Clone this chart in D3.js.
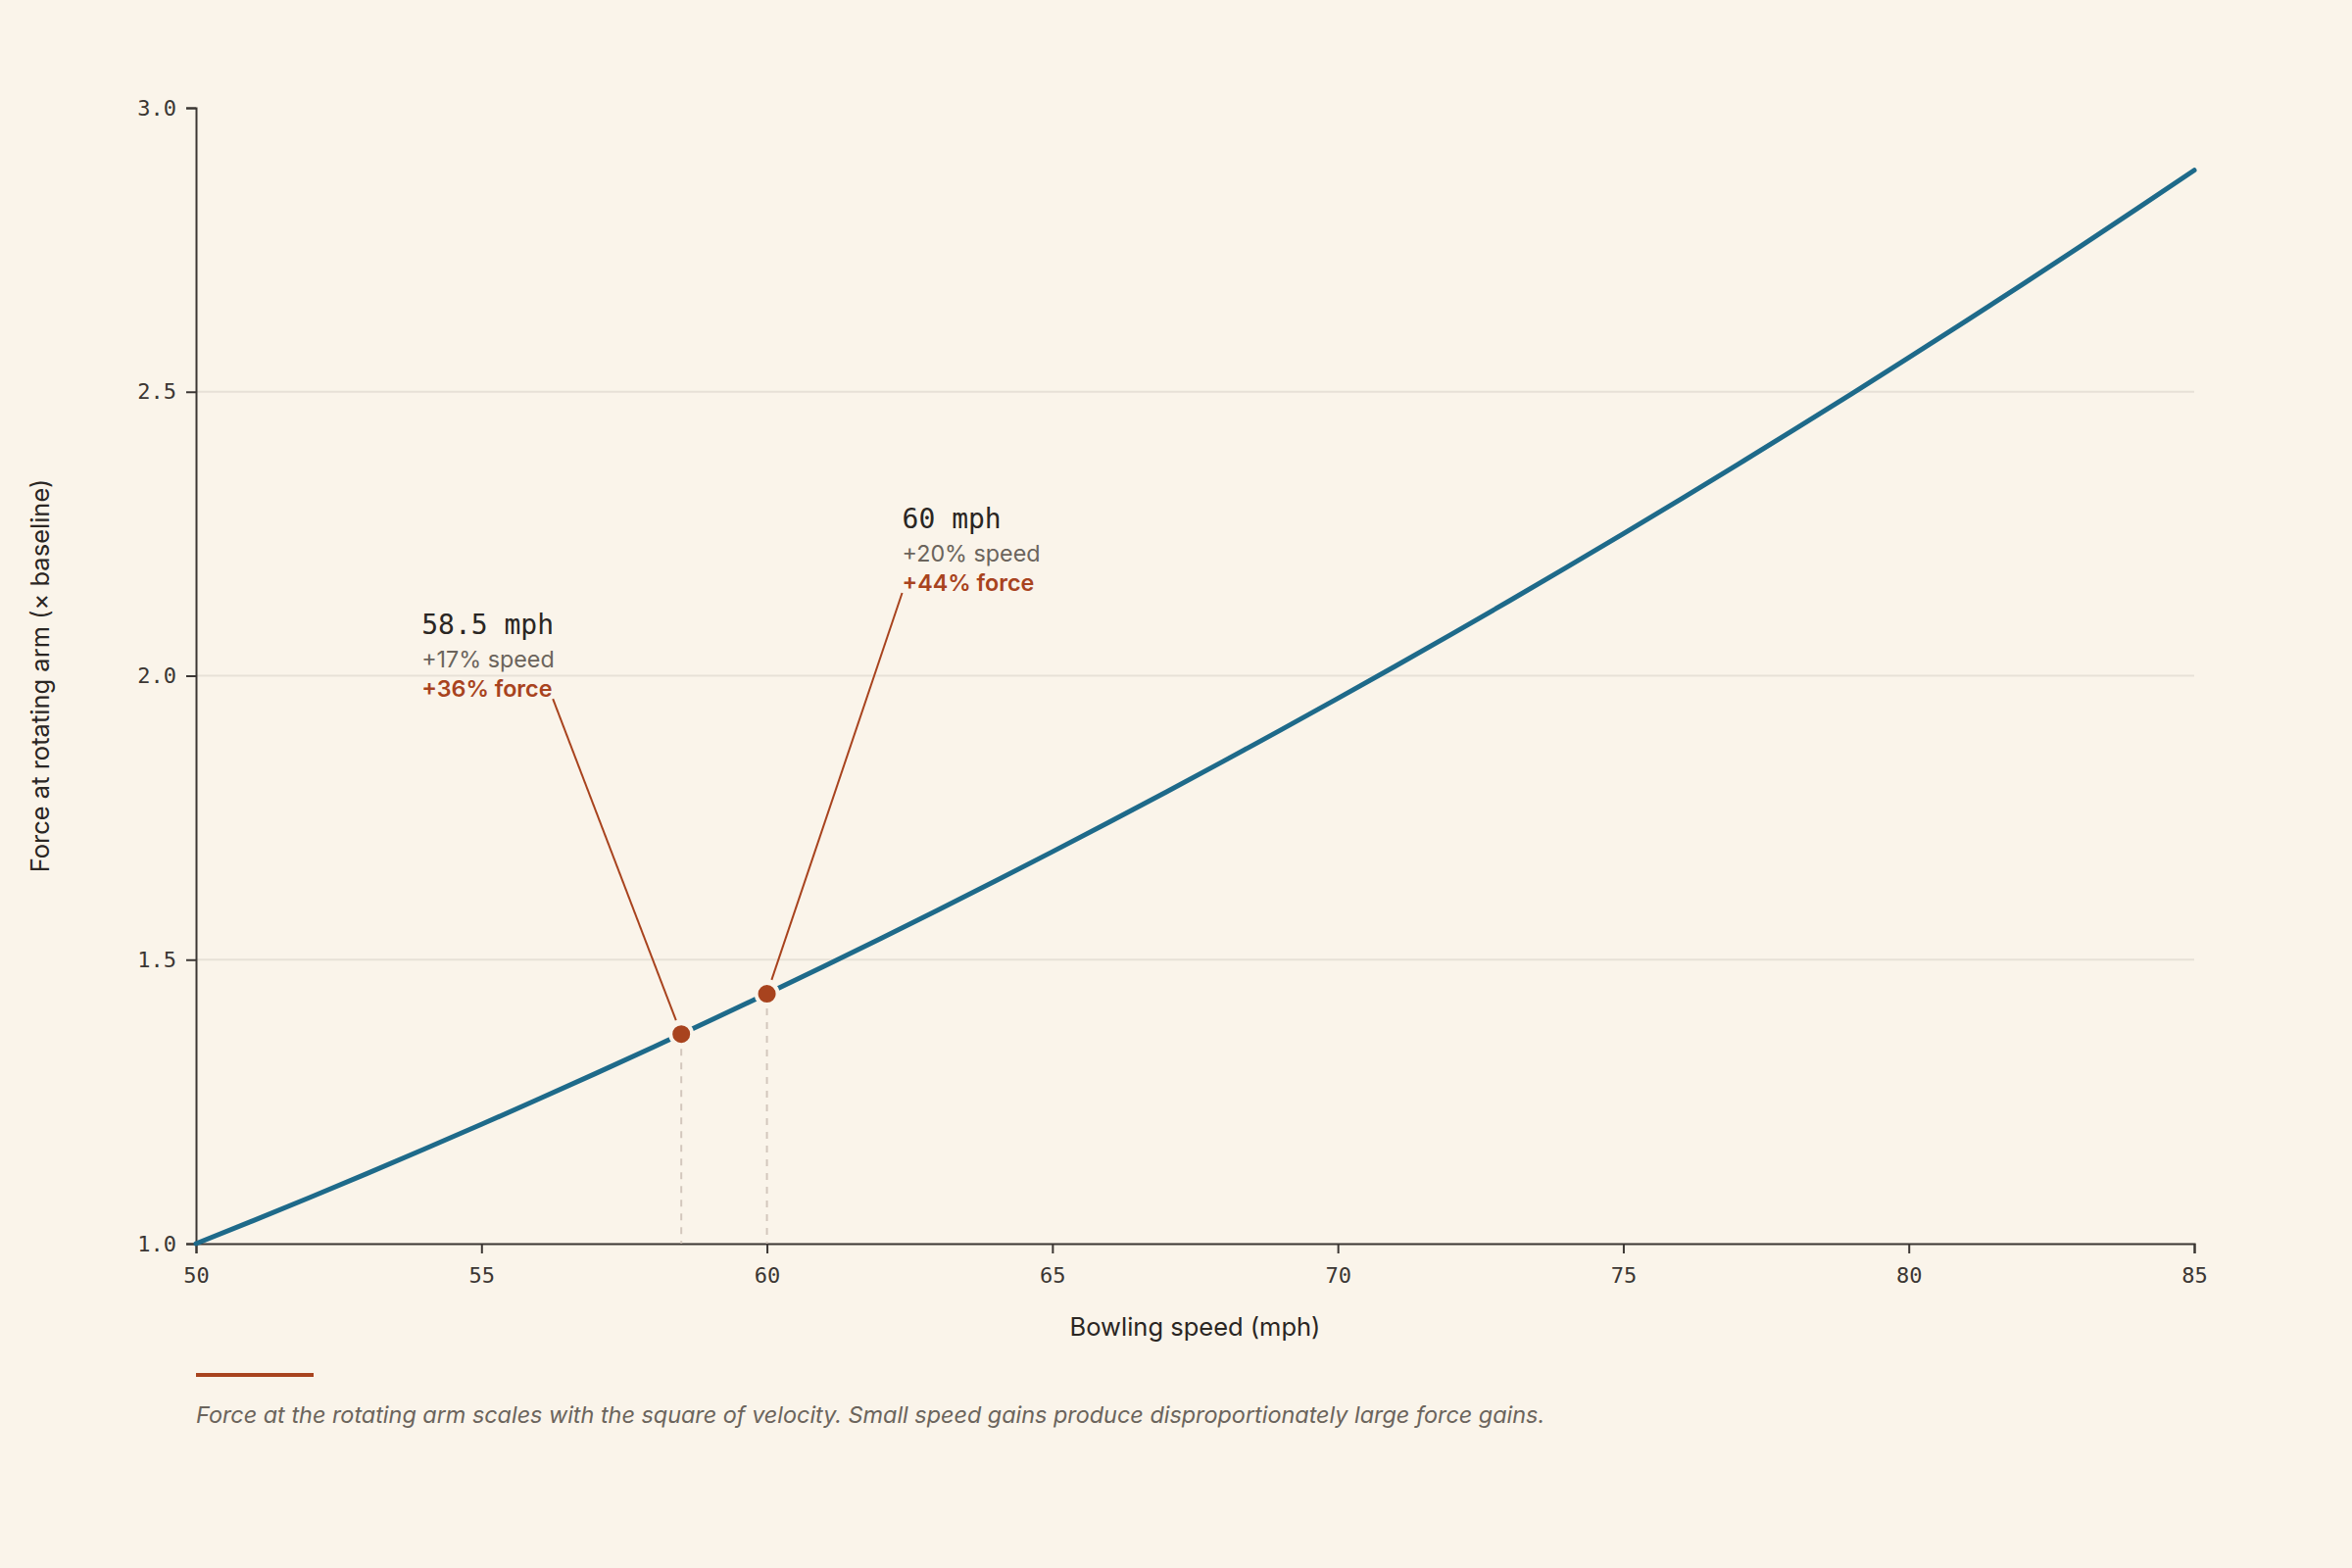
<html>
<head>
<style>
  body { margin: 0; background: #faf4ea; }
  svg { display: block; }
  .tick text { font-family: "DejaVu Sans Mono", monospace; font-size: 22px; fill: #3b3633; }
</style>
</head>
<body>
<svg width="2400" height="1600"></svg>
<script src="https://cdn.jsdelivr.net/npm/d3@7/dist/d3.min.js"></script>
<script>
var speeds = [50, 51, 52, 53, 54, 55, 56, 57, 58, 59, 60, 61, 62, 63, 64, 65, 66, 67,
  68, 69, 70, 71, 72, 73, 74, 75, 76, 77, 78, 79, 80, 81, 82, 83, 84, 85];
var forces = [1.0000, 1.0404, 1.0816, 1.1236, 1.1664, 1.2100, 1.2544, 1.2996, 1.3456,
  1.3924, 1.4400, 1.4884, 1.5376, 1.5876, 1.6384, 1.6900, 1.7424, 1.7956, 1.8496,
  1.9044, 1.9600, 2.0164, 2.0736, 2.1316, 2.1904, 2.2500, 2.3104, 2.3716, 2.4336,
  2.4964, 2.5600, 2.6244, 2.6896, 2.7556, 2.8224, 2.8900];

var markSpeeds = [58.5, 60];
var markForces = [1.3689, 1.44];
var markTitles = ["58.5 mph", "60 mph"];
var markSpeedGain = ["+17% speed", "+20% speed"];
var markForceGain = ["+36% force", "+44% force"];

var xTicks = [50, 55, 60, 65, 70, 75, 80, 85];
var yTicks = [1.0, 1.5, 2.0, 2.5, 3.0];

var bg = "#faf4ea";
var blue = "#1e6a8a";
var rust = "#a8431e";
var ink = "#2a2623";
var muted = "#6b645c";

var margin = { top: 110, right: 161, bottom: 331, left: 200 };
var width = 2400 - margin.left - margin.right;
var height = 1600 - margin.top - margin.bottom;

var svg = d3.select("svg");
svg.append("rect").attr("width", 2400).attr("height", 1600).attr("fill", bg);

var g = svg.append("g")
  .attr("transform", "translate(" + margin.left + "," + margin.top + ")");

var x = d3.scaleLinear().domain([50, 85]).range([0, width]);
var y = d3.scaleLinear().domain([1, 3]).range([height, 0]);

// gridlines
g.append("g").selectAll("line")
  .data(yTicks.filter(function(d) { return d > 1 && d < 3; }))
  .enter().append("line")
  .attr("x1", 0).attr("x2", width)
  .attr("y1", function(d) { return y(d); })
  .attr("y2", function(d) { return y(d); })
  .attr("stroke", "#e7e1d7").attr("stroke-width", 2);

var xAxis = g.append("g")
  .attr("transform", "translate(0," + height + ")")
  .call(d3.axisBottom(x).tickValues(xTicks).tickSize(10).tickPadding(14).tickFormat(d3.format("d")));

var yAxis = g.append("g")
  .call(d3.axisLeft(y).tickValues(yTicks).tickSize(10).tickPadding(10).tickFormat(d3.format(".1f")));

[xAxis, yAxis].forEach(function(a) {
  a.select(".domain").attr("stroke", "#3b3633").attr("stroke-width", 2);
  a.selectAll(".tick line").attr("stroke", "#3b3633").attr("stroke-width", 2);
});

g.append("text")
  .attr("x", width / 2).attr("y", height + 94)
  .attr("text-anchor", "middle")
  .attr("font-family", "Inter, sans-serif").attr("font-size", 25.5)
  .attr("fill", ink)
  .text("Bowling speed (mph)");

g.append("text")
  .attr("transform", "translate(" + (50 - margin.left) + "," + (height / 2) + ") rotate(-90)")
  .attr("text-anchor", "middle")
  .attr("font-family", "Inter, sans-serif").attr("font-size", 25.5)
  .attr("fill", ink)
  .text("Force at rotating arm (× baseline)");

// drop lines
g.append("g").selectAll("line")
  .data(markSpeeds)
  .enter().append("line")
  .attr("x1", function(d) { return x(d); })
  .attr("x2", function(d) { return x(d); })
  .attr("y1", function(d, i) { return y(markForces[i]) + 15; })
  .attr("y2", height)
  .attr("stroke", "#d3c7bd").attr("stroke-width", 2)
  .attr("stroke-dasharray", "7,7");

var line = d3.line()
  .x(function(d) { return x(d); })
  .y(function(d, i) { return y(forces[i]); });

g.append("path")
  .datum(speeds)
  .attr("d", line)
  .attr("fill", "none")
  .attr("stroke", blue)
  .attr("stroke-width", 5)
  .attr("stroke-linecap", "round");

// annotations: text block offset from point
var labelPos = [
  { dx: -265, dy: -408, lx: 134 },
  { dx: 138, dy: -475, lx: 0 }
];

markSpeeds.forEach(function(s, i) {
  var px = x(s), py = y(markForces[i]);
  var tx = px + labelPos[i].dx, ty = py + labelPos[i].dy;
  var a = g.append("g");
  a.append("text")
    .attr("x", tx).attr("y", ty)
    .attr("font-family", "DejaVu Sans Mono, monospace").attr("font-size", 28)
    .attr("fill", ink)
    .text(markTitles[i]);
  a.append("text")
    .attr("x", tx).attr("y", ty + 34)
    .attr("font-family", "Inter, sans-serif").attr("font-size", 23.3)
    .attr("fill", muted)
    .text(markSpeedGain[i]);
  a.append("text")
    .attr("x", tx).attr("y", ty + 64)
    .attr("font-family", "Inter, sans-serif").attr("font-size", 23.3)
    .attr("font-weight", 600)
    .attr("fill", rust)
    .text(markForceGain[i]);

  var sx = tx + labelPos[i].lx, sy = ty + 66;
  var ang = Math.atan2(py - sy, px - sx);
  a.append("line")
    .attr("x1", sx).attr("y1", sy)
    .attr("x2", px - Math.cos(ang) * 15).attr("y2", py - Math.sin(ang) * 15)
    .attr("stroke", rust).attr("stroke-width", 2);
});

g.append("g").selectAll("circle")
  .data(markSpeeds)
  .enter().append("circle")
  .attr("cx", function(d) { return x(d); })
  .attr("cy", function(d, i) { return y(markForces[i]); })
  .attr("r", 11)
  .attr("fill", rust)
  .attr("stroke", bg)
  .attr("stroke-width", 4);

// footnote
svg.append("rect")
  .attr("x", margin.left).attr("y", 1401)
  .attr("width", 120).attr("height", 4)
  .attr("fill", rust);

svg.append("text")
  .attr("x", margin.left).attr("y", 1452)
  .attr("font-family", "Inter, sans-serif").attr("font-size", 23.4)
  .attr("font-style", "italic")
  .attr("fill", muted)
  .text("Force at the rotating arm scales with the square of velocity. Small speed gains produce disproportionately large force gains.");
</script>
</body>
</html>
